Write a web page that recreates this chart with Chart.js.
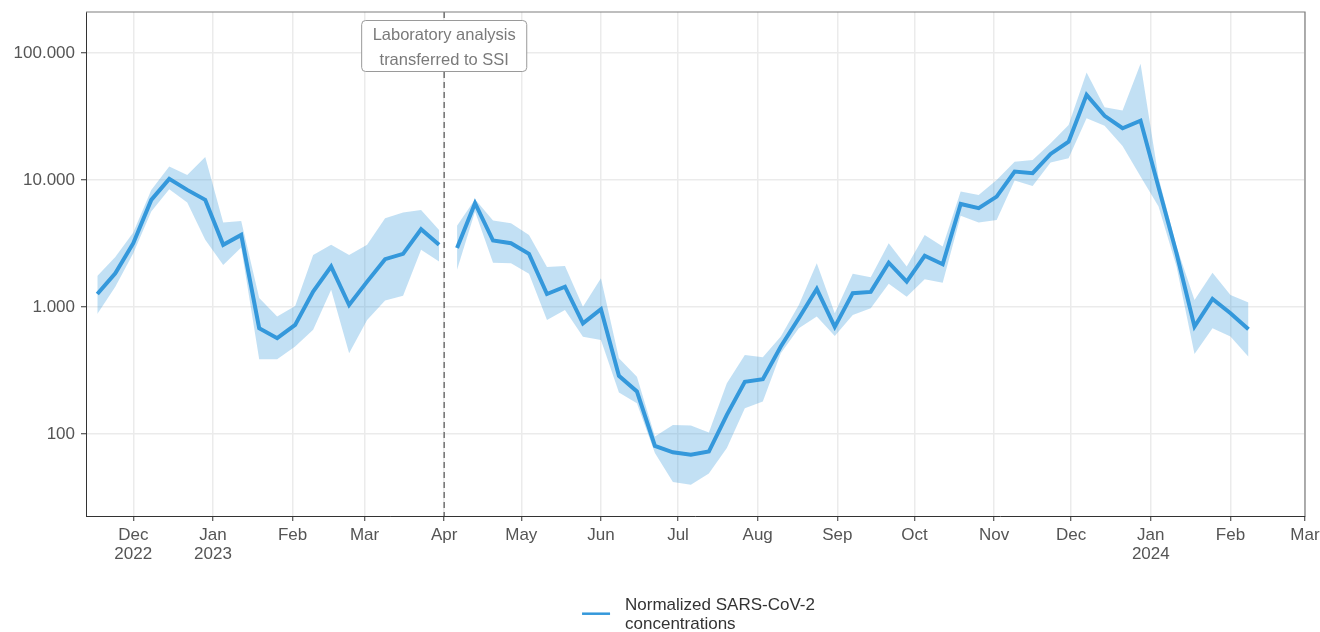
<!DOCTYPE html>
<html>
<head>
<meta charset="utf-8">
<script src="https://cdn.jsdelivr.net/npm/chart.js@4.4.1/dist/chart.umd.min.js"></script>
<style>
html,body{margin:0;background:#fff}
#wrap{width:1320px;height:632px}
</style>
</head>
<body>
<div id="wrap"><canvas id="chartSars"></canvas></div>
<script>
// ---- data ----
const weekDates=['2022-11-17','2022-11-24','2022-12-01','2022-12-08','2022-12-15','2022-12-22','2022-12-29',
  '2023-01-05','2023-01-12','2023-01-19','2023-01-26','2023-02-02','2023-02-09','2023-02-16','2023-02-23',
  '2023-03-02','2023-03-09','2023-03-16','2023-03-23','2023-03-30','2023-04-06','2023-04-13','2023-04-20',
  '2023-04-27','2023-05-04','2023-05-11','2023-05-18','2023-05-25','2023-06-01','2023-06-08','2023-06-15',
  '2023-06-22','2023-06-29','2023-07-06','2023-07-13','2023-07-20','2023-07-27','2023-08-03','2023-08-10',
  '2023-08-17','2023-08-24','2023-08-31','2023-09-07','2023-09-14','2023-09-21','2023-09-28','2023-10-05',
  '2023-10-12','2023-10-19','2023-10-26','2023-11-02','2023-11-09','2023-11-16','2023-11-23','2023-11-30',
  '2023-12-07','2023-12-14','2023-12-21','2023-12-28','2024-01-04','2024-01-11','2024-01-18','2024-01-25',
  '2024-02-01','2024-02-08'];
const concentration=[1270,1850,3190,7000,10240,8390,7000,3100,3710,683,570,726,1330,2090,1040,
  1590,2390,2630,4110,3100,2920,6590,3350,3190,2630,1270,1450,745,964,288,217,
  81,72,69,73,142,259,271,490,819,1390,700,1290,1320,2240,1590,2540,
  2180,6500,6030,7430,11700,11350,16100,20130,46950,32100,25650,29440,8800,2660,703,1160,
  897,671];
const upperBound=[1760,2480,3870,8390,12800,11000,15200,4640,4780,1180,843,1020,2580,3100,2580,
  3100,5020,5560,5830,4060,4370,7080,4810,4590,3710,2070,2110,1010,1690,397,284,
  96,118,117,103,252,421,404,587,1040,2220,897,1830,1720,3190,2090,3710,
  3000,8130,7660,10050,14000,14450,19550,27200,70300,37600,35300,82400,10500,3000,1140,1870,
  1250,1090];
const lowerBound=[885,1450,2660,5660,8490,6660,3390,2150,2950,389,389,490,663,1370,434,
  794,1130,1230,2830,2290,1970,5660,2240,2220,1830,794,952,585,553,213,175,
  71,42,40,49,78,160,181,434,683,843,594,869,982,1530,1210,1660,
  1560,5240,4640,4870,9930,9020,13770,14900,30760,26800,18620,10670,6200,2090,429,683,
  587,408];
const monthTicks=['2022-12-01','2023-01-01','2023-02-01','2023-03-01','2023-04-01','2023-05-01','2023-06-01',
  '2023-07-01','2023-08-01','2023-09-01','2023-10-01','2023-11-01','2023-12-01','2024-01-01','2024-02-01','2024-03-01'];
const monthLabels=[['Dec','2022'],['Jan','2023'],'Feb','Mar','Apr','May','Jun','Jul','Aug','Sep','Oct','Nov','Dec',['Jan','2024'],'Feb','Mar'];
const yTicks=[100,1000,10000,100000];
const transferDate='2023-04-01';
const transferNote=['Laboratory analysis','transferred to SSI'];
const legendText=['Normalized SARS-CoV-2','concentrations'];

const lineColor='#3498db';
const bandColor='rgba(52,152,219,.3)';
const FONT="'Liberation Sans', Arial, sans-serif";

Chart.defaults.font.family=FONT;
Chart.defaults.color='#555';

// days since 1 Dec 2022
const day=s=>(Date.parse(s)-Date.parse('2022-12-01'))/86400000;

// points, with a break where the lab changed
function toPoints(vals){
  const out=[];
  weekDates.forEach((d,i)=>{
    if(i>0&&weekDates[i-1]<transferDate&&d>=transferDate)out.push({x:day(transferDate),y:null});
    out.push({x:day(d),y:vals[i]});
  });
  return out;
}

const fmt=v=>String(v).replace(/\B(?=(\d{3})+(?!\d))/g,'.');

// dashed marker + note box, panel border, bottom legend
const overlay={
  id:'overlay',
  afterDatasetsDraw(chart){
    const {ctx,chartArea:a,scales:{x}}=chart;
    const px=x.getPixelForValue(day(transferDate));
    ctx.save();
    ctx.strokeStyle='#7a7a7a';ctx.lineWidth=1.6;ctx.setLineDash([6,4]);
    ctx.beginPath();ctx.moveTo(px,a.top);ctx.lineTo(px,a.bottom);ctx.stroke();
    ctx.setLineDash([]);
    ctx.font='16.5px '+FONT;
    const w=Math.max(...transferNote.map(t=>ctx.measureText(t).width))+22;
    const h=51,top=a.top+8.5;
    ctx.beginPath();ctx.roundRect(px-w/2,top,w,h,4);
    ctx.fillStyle='#fff';ctx.fill();
    ctx.strokeStyle='#9a9a9a';ctx.lineWidth=1;ctx.stroke();
    ctx.fillStyle='#7a7a7a';ctx.textAlign='center';ctx.textBaseline='middle';
    ctx.fillText(transferNote[0],px,top+15);
    ctx.fillText(transferNote[1],px,top+39.5);
    ctx.strokeStyle='#7f7f7f';ctx.lineWidth=1.2;
    ctx.beginPath();ctx.moveTo(a.left,a.top);ctx.lineTo(a.right,a.top);ctx.lineTo(a.right,a.bottom);ctx.stroke();
    ctx.restore();
  },
  afterDraw(chart){
    const {ctx,chartArea:a}=chart;
    ctx.save();
    ctx.font='17px '+FONT;
    const tw=Math.max(...legendText.map(t=>ctx.measureText(t).width));
    const bw=28+15+tw;
    const left=(a.left+a.right)/2+3-bw/2;
    const y0=a.bottom+89;
    ctx.strokeStyle=lineColor;ctx.lineWidth=2.5;
    ctx.beginPath();ctx.moveTo(left,y0+8.7);ctx.lineTo(left+28,y0+8.7);ctx.stroke();
    ctx.fillStyle='#333';ctx.textAlign='left';ctx.textBaseline='middle';
    legendText.forEach((t,i)=>ctx.fillText(t,left+43,y0+i*19));
    ctx.restore();
  }
};

new Chart(document.getElementById('chartSars'),{
  type:'line',
  data:{
    datasets:[
      {label:'Normalized SARS-CoV-2 concentrations',data:toPoints(concentration),borderColor:lineColor,borderWidth:4,
        pointRadius:0,fill:false,spanGaps:false,order:0},
      {label:'upper',data:toPoints(upperBound),borderWidth:0,pointRadius:0,backgroundColor:bandColor,fill:'+1',spanGaps:false,order:1},
      {label:'lower',data:toPoints(lowerBound),borderWidth:0,pointRadius:0,fill:false,spanGaps:false,order:2}
    ]
  },
  options:{
    responsive:true,maintainAspectRatio:false,animation:false,
    layout:{padding:{top:12,right:15,bottom:56,left:0}},
    plugins:{
      tooltip:{enabled:false},
      legend:{display:false}
    },
    scales:{
      x:{
        type:'linear',min:-18.4,max:456,
        afterBuildTicks:s=>{s.ticks=monthTicks.map(d=>({value:day(d)}));},
        afterFit:s=>{s.height=60;s.paddingLeft=0;s.paddingRight=0;},
        grid:{color:'#ebebeb',lineWidth:1.5,tickLength:5,tickColor:'#333',tickWidth:1},
        border:{color:'#333',width:1},
        ticks:{autoSkip:false,maxRotation:0,minRotation:0,padding:5,color:'#555',
          font:{size:17,lineHeight:1.12},callback:(v,i)=>monthLabels[i]}
      },
      y:{
        type:'logarithmic',min:22.7,max:211000,
        afterBuildTicks:s=>{s.ticks=yTicks.map(v=>({value:v}));},
        afterFit:s=>{s.width=86;s.paddingTop=0;s.paddingBottom=0;},
        grid:{color:'#ebebeb',lineWidth:1.5,tickLength:5,tickColor:'#333',tickWidth:1},
        border:{color:'#333',width:1},
        ticks:{padding:6,color:'#555',font:{size:17},callback:v=>fmt(v)}
      }
    }
  },
  plugins:[overlay]
});
</script>
</body>
</html>
